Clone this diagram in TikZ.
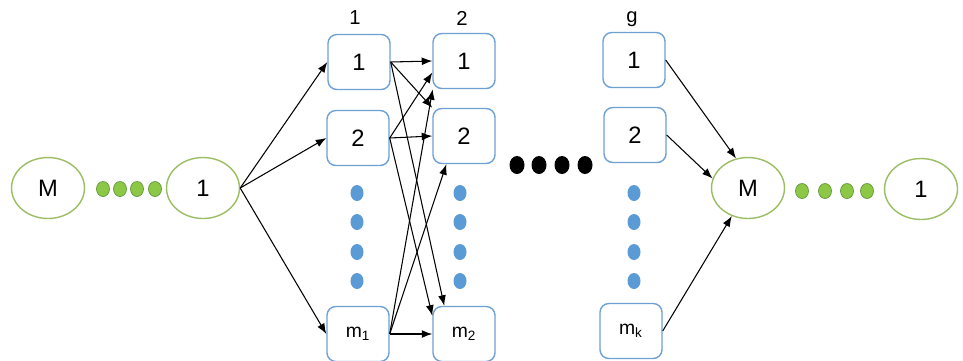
\documentclass[tikz,border=0pt]{standalone}
\usepackage{fontspec}
\setmainfont{Liberation Sans}
\usepackage{tikz}
\usetikzlibrary{shapes.geometric,arrows.meta}
\definecolor{boxblue}{RGB}{110,160,212}
\definecolor{dotblue}{RGB}{91,155,213}
\definecolor{elgreen}{RGB}{155,190,100}
\definecolor{dotgreen}{RGB}{140,200,70}
\definecolor{dotgreenline}{RGB}{100,150,60}
\tikzset{
box/.style={draw=boxblue, line width=0.8pt, rounded corners=5pt, minimum width=1.24cm, minimum height=1.1cm, font=\fontsize{13.5}{15}\selectfont},
mbox/.style={box, font=\fontsize{11}{13}\selectfont},
ell/.style={draw=elgreen, line width=0.8pt, ellipse, minimum width=1.46cm, minimum height=1.22cm, font=\fontsize{13.5}{15}\selectfont},
hd/.style={font=\fontsize{11.5}{13}\selectfont},
arr/.style={-{Latex[length=6pt,width=4.5pt]}, line width=0.6pt}
}
\begin{document}
\begin{tikzpicture}[x=0.02cm,y=-0.02cm]
\clip (0,0) rectangle (963,360);
\fill[white] (0,0) rectangle (963,360);
\node[ell] (lM) at (48,188) {M};
\node[ell] (l1) at (203,188) {1};
\node[ell] (rM) at (748,188) {M};
\node[ell] (r1) at (921,189) {1};
\node[hd] (t1) at (355,18) {1};
\node[hd] (t2) at (462,18) {2};
\node[hd] (tg) at (632,19) {g};
\node[box] (a1) at (359,62) {1};
\node[box] (a2) at (358,138) {2};
\node[mbox] (am) at (358,334) {m\textsubscript{1}};
\node[box] (b1) at (464,61) {1};
\node[box] (b2) at (464,136) {2};
\node[mbox] (bm) at (464,334) {m\textsubscript{2}};
\node[box] (g1) at (634,60) {1};
\node[box] (g2) at (635,135) {2};
\node[mbox] (gm) at (631,331) {m\textsubscript{k}};
\foreach \x in {103,120,137,155}
\draw[dotgreenline, fill=dotgreen] (\x,189) ellipse [x radius=6.5, y radius=7.5];
\foreach \x in {802,825,847,867}
\draw[dotgreenline, fill=dotgreen] (\x,191) ellipse [x radius=6.5, y radius=7.5];
\foreach \x in {357,460,634}
\foreach \y in {193,222,252,281}
\fill[dotblue] (\x,\y) ellipse [x radius=6.5, y radius=8];
\foreach \x in {517,539,562,585}
\fill[black] (\x,165) ellipse [x radius=7.5, y radius=9];
\draw[arr] (l1.east) -- (a1.west);
\draw[arr] (l1.east) -- (a2.west);
\draw[arr] (l1.east) -- (am.west);
\draw[arr] (a1.east) -- (b1.west);
\draw[arr] (a1.east) -- (b2.north west);
\draw[arr] (a1.east) -- (bm.125);
\draw[arr] (a2.east) -- (b1.200);
\draw[arr] (a2.east) -- (b2.west);
\draw[arr] (a2.east) -- (bm.150);
\draw[arr] (am.east) -- (b1.222);
\draw[arr] (am.east) -- (b2.238);
\draw[arr] (am.east) -- (bm.west);
\draw[arr] (g1.east) -- (rM.112);
\draw[arr] (g2.east) -- (rM.165);
\draw[arr] (gm.east) -- (rM.240);
\end{tikzpicture}
\end{document}
